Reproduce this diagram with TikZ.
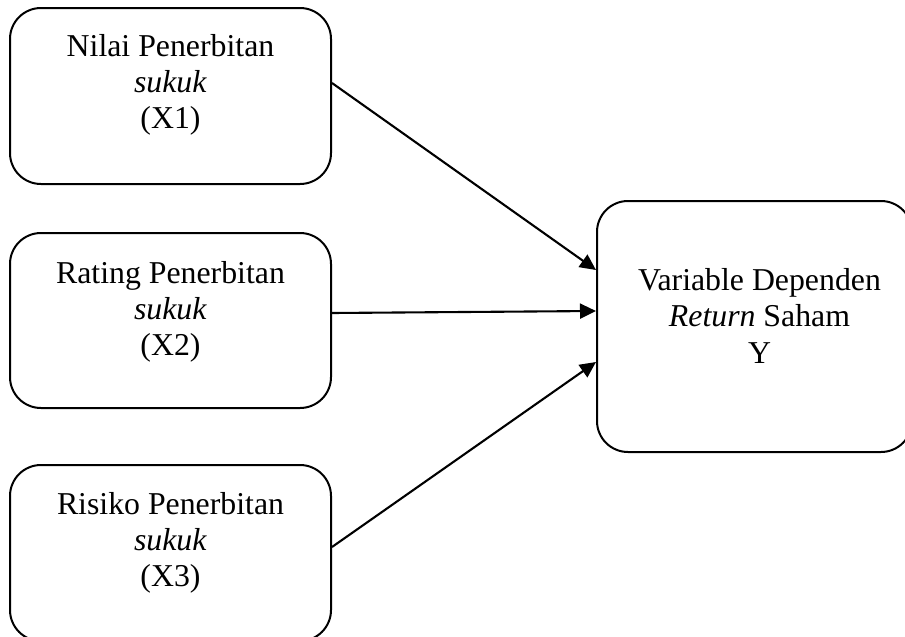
\documentclass[tikz,border=0pt]{standalone}
\usepackage{fontspec}
\setmainfont{Liberation Serif}
\usetikzlibrary{arrows.meta,calc}
\tikzset{
  varbox/.style={draw, line width=2pt, rounded corners=31pt, inner sep=0pt},
  lbl/.style={inner sep=0pt, align=center, anchor=north,
    font=\fontsize{31.8pt}{36pt}\selectfont},
  conn/.style={line width=2.1pt, -{Triangle[length=16pt,width=15pt]}}
}
\begin{document}
\begin{tikzpicture}[x=1pt,y=-1pt]
\useasboundingbox (0,0) rectangle (905,637);
% boxes
\node[varbox, minimum width=321pt, minimum height=176pt] (x1) at (170.5,96) {};
\node[varbox, minimum width=321pt, minimum height=175pt] (x2) at (170.5,320.5) {};
\node[varbox, minimum width=321pt, minimum height=176pt] (x3) at (170.5,553) {};
\node[varbox, minimum width=315pt, minimum height=251pt] (y) at (754.5,326.5) {};
% labels
\node[lbl] (t1) at (170.5,34.5) {Nilai Penerbitan\\\textit{sukuk}\\(X1)};
\node[lbl] (t2) at (170.5,261) {Rating Penerbitan\\\textit{sukuk}\\(X2)};
\node[lbl] (t3) at (170.5,492) {Risiko Penerbitan\\\textit{sukuk}\\(X3)};
\node[lbl, font=\fontsize{31.8pt}{36.5pt}\selectfont] (ty) at (759.5,268) {Variable Dependen\\\textit{Return} Saham\\Y};
% connectors
\draw[conn] ([yshift=13pt]x1.east) -- ([yshift=56.5pt]y.west);
\draw[conn] ([yshift=7.5pt]x2.east) -- ([yshift=15.5pt]y.west);
\draw[conn] ([yshift=6pt]x3.east) -- ([yshift=-35.5pt]y.west);
\end{tikzpicture}
\end{document}
